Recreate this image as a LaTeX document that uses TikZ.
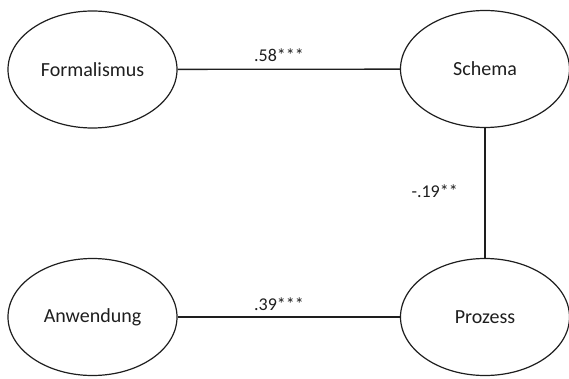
\documentclass[tikz,border=0pt]{standalone}
\usepackage{fontspec}
\setmainfont{Carlito}
\usetikzlibrary{shapes.geometric}
\definecolor{ink}{HTML}{1E1E1E}
\tikzset{
  latent/.style={ellipse, draw=ink, line width=1.2pt, inner sep=0pt,
    minimum width=169pt, minimum height=117pt,
    font=\fontsize{20}{24}\selectfont, text=ink},
  path/.style={draw=ink, line width=1.3pt},
  coef/.style={font=\fontsize{18}{22}\selectfont, text=ink, inner sep=0pt}
}
\begin{document}
\begin{tikzpicture}[x=1pt, y=-1pt]
  \useasboundingbox (0,0) rectangle (569,379);
  % latent constructs
  \node[latent] (form) at (92.5,69.5) {Formalismus};
  \node[latent] (schema) at (485,69) {Schema};
  \node[latent] (anw) at (92.5,317) {Anwendung};
  \node[latent] (proz) at (485,317) {Prozess};
  % paths between constructs
  \draw[path] (form) -- (schema);
  \draw[path] (schema) -- (proz);
  \draw[path] (anw) -- (proz);
  % path coefficients
  \node[coef, anchor=base] (c1) at (279,62) {.58***};
  \node[coef, anchor=base east] (c2) at (458,197) {-.19**};
  \node[coef, anchor=base] (c3) at (279,310) {.39***};
\end{tikzpicture}
\end{document}
